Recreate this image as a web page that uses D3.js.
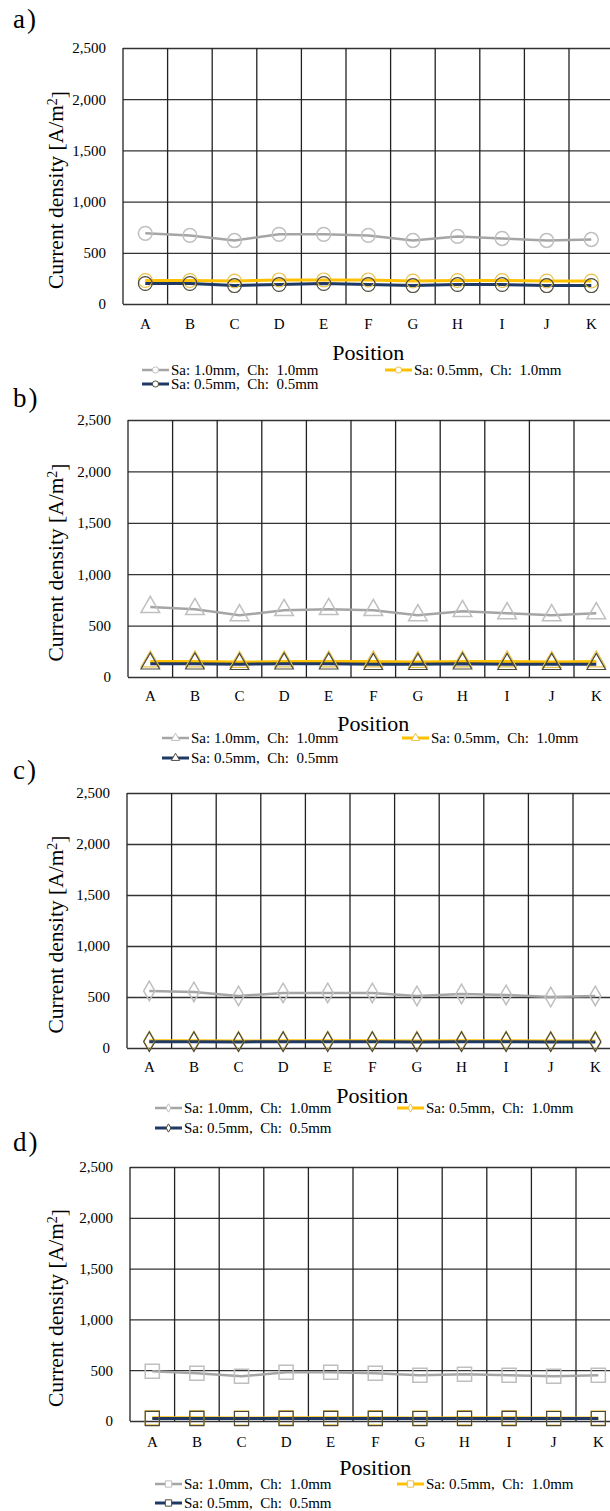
<!DOCTYPE html>
<html lang="en">
<head>
<meta charset="UTF-8">
<title>Current density by position</title>
<style>
  body { margin: 0; background: #fff; }
  svg text { font-family: "Liberation Serif", "Times New Roman", serif; fill: #000; }
</style>
</head>
<body>
<svg id="chart" width="610" height="1511"></svg>
<script src="https://d3js.org/d3.v7.min.js"></script>
<script>

// data
let positions = ["A", "B", "C", "D", "E", "F", "G", "H", "I", "J", "K"];
let yTicks = [0, 500, 1000, 1500, 2000, 2500];
let seriesNames = ["Sa: 1.0mm,  Ch:  1.0mm", "Sa: 0.5mm,  Ch:  1.0mm", "Sa: 0.5mm,  Ch:  0.5mm"];
let panelLetters = ["a)", "b)", "c)", "d)"];

let circleS1 = [690, 670, 620, 680, 680, 670, 620, 660, 640, 620, 630];
let circleS2 = [230, 230, 225, 235, 235, 235, 225, 230, 230, 225, 225];
let circleS3 = [200, 200, 180, 190, 200, 190, 180, 190, 190, 180, 180];

let triangleS1 = [680, 660, 600, 650, 660, 650, 600, 640, 620, 600, 620];
let triangleS2 = [150, 150, 145, 150, 150, 150, 145, 150, 150, 145, 150];
let triangleS3 = [130, 130, 125, 130, 130, 125, 125, 130, 125, 125, 125];

let diamondS1 = [560, 550, 510, 540, 540, 540, 510, 530, 520, 500, 510];
let diamondS2 = [70, 70, 68, 70, 70, 70, 68, 70, 70, 68, 68];
let diamondS3 = [62, 62, 60, 62, 62, 62, 60, 62, 62, 60, 60];

let squareS1 = [490, 470, 440, 480, 480, 470, 450, 460, 450, 440, 450];
let squareS2 = [32, 32, 30, 32, 32, 32, 30, 32, 32, 30, 30];
let squareS3 = [25, 25, 24, 25, 25, 25, 24, 25, 25, 24, 24];

let panelData = [
    [circleS1, circleS2, circleS3],
    [triangleS1, triangleS2, triangleS3],
    [diamondS1, diamondS2, diamondS3],
    [squareS1, squareS2, squareS3]
];
let markerKinds = ["circle", "triangle", "diamond", "square"];

// styling / layout
let serif = "'Liberation Serif', 'Times New Roman', serif";
let lineColors = ["#a5a5a5", "#ffc000", "#1f3864"];
let markerColors = ["#bfbfbf", "#e8c04a", "#4a4a3a"];
let lineWidths = [2.5, 3, 3];

let layouts = [
    {letterY: 28,   left: 123, top: 48,   bottom: 304,  labY: 324,  posY: 352,  leg1: 370,  leg2: 384,  lx1: 142, lx2: 385},
    {letterY: 407,  left: 128, top: 420,  bottom: 677,  labY: 696,  posY: 723,  leg1: 738,  leg2: 758,  lx1: 162, lx2: 402},
    {letterY: 779,  left: 127, top: 793,  bottom: 1048, labY: 1067, posY: 1095, leg1: 1108, leg2: 1128, lx1: 155, lx2: 397},
    {letterY: 1151, left: 130, top: 1167, bottom: 1421, labY: 1442, posY: 1467, leg1: 1484, leg2: 1503, lx1: 155, lx2: 397}
];
let bandW = 44.6;

let svg = d3.select("#chart");

function markerPath(kind, size) {
    let sym = {circle: d3.symbolCircle, triangle: d3.symbolTriangle, diamond: d3.symbolDiamond, square: d3.symbolSquare}[kind];
    return d3.symbol().type(sym).size(size)();
}
let markerSizes = {circle: 150, triangle: 150, diamond: 110, square: 200};
let legendMarkerSizes = {circle: 30, triangle: 30, diamond: 20, square: 40};

layouts.forEach((L, p) => {
    let g = svg.append("g").style("font-family", serif);
    let width = bandW * positions.length;

    let x = d3.scaleBand().domain(positions).range([L.left, L.left + width]).padding(0);
    let y = d3.scaleLinear().domain([0, 2500]).range([L.bottom, L.top]);

    // panel letter
    g.append("text")
        .attr("x", 13).attr("y", L.letterY)
        .style("font-size", "27px")
        .style("letter-spacing", "2px")
        .text(panelLetters[p]);

    // horizontal gridlines + y labels
    g.append("g")
        .attr("transform", "translate(" + L.left + ",0)")
        .call(d3.axisLeft(y).tickValues(yTicks).tickSize(-width).tickFormat(d3.format(",")))
        .attr("font-family", null)
        .call(a => a.select(".domain").remove())
        .call(a => a.selectAll("line").attr("stroke", "#333").attr("stroke-width", 1.3))
        .call(a => a.selectAll("text").attr("x", -17).style("font-size", "15px").style("font-family", serif));

    // vertical gridlines
    let edges = positions.map(d => x(d)).concat([L.left + width]);
    g.selectAll(".vgrid")
        .data(edges)
        .enter()
        .append("line")
        .attr("x1", d => d).attr("x2", d => d)
        .attr("y1", L.top).attr("y2", L.bottom)
        .attr("stroke", "#222").attr("stroke-width", 1.3);

    // category labels
    g.selectAll(".cat")
        .data(positions)
        .enter()
        .append("text")
        .attr("x", d => x(d) + x.bandwidth() / 2)
        .attr("y", L.labY)
        .attr("dy", "0.35em")
        .attr("text-anchor", "middle")
        .style("font-size", "15px")
        .text(d => d);

    // axis titles
    g.append("text")
        .attr("x", L.left + width / 2)
        .attr("y", L.posY)
        .attr("dy", "0.35em")
        .attr("text-anchor", "middle")
        .style("font-size", "22px")
        .text("Position");

    let yt = g.append("text")
        .attr("transform", "translate(63," + ((L.top + L.bottom) / 2 + 14) + ") rotate(-90)")
        .attr("text-anchor", "middle")
        .style("font-size", "21.5px");
    yt.append("tspan").text("Current density [A/m");
    yt.append("tspan").attr("dy", "-0.45em").style("font-size", "14px").text("2");
    yt.append("tspan").attr("dy", "0.45em").text("]");

    // series
    let line = d3.line()
        .x((d, i) => x(positions[i]) + x.bandwidth() / 2)
        .y(d => y(d));
    let kind = markerKinds[p];

    panelData[p].forEach((vals, s) => {
        g.append("path")
            .datum(vals)
            .attr("d", line)
            .attr("fill", "none")
            .attr("stroke", lineColors[s])
            .attr("stroke-width", lineWidths[s]);
    });
    panelData[p].forEach((vals, s) => {
        g.selectAll(".m" + s)
            .data(vals)
            .enter()
            .append("path")
            .attr("d", markerPath(kind, markerSizes[kind]))
            .attr("transform", (d, i) => "translate(" + (x(positions[i]) + x.bandwidth() / 2) + "," + y(d) + ")")
            .attr("fill", "none")
            .attr("stroke", markerColors[s])
            .attr("stroke-width", s === 0 ? 1.5 : 1.2);
    });

    // legend
    let legPos = [[L.lx1, L.leg1], [L.lx2, L.leg1], [L.lx1, L.leg2]];
    seriesNames.forEach((name, s) => {
        let [lx, ly] = legPos[s];
        g.append("line")
            .attr("x1", lx).attr("x2", lx + 27)
            .attr("y1", ly).attr("y2", ly)
            .attr("stroke", lineColors[s]).attr("stroke-width", lineWidths[s]);
        g.append("path")
            .attr("d", markerPath(kind, legendMarkerSizes[kind]))
            .attr("transform", "translate(" + (lx + 13.5) + "," + ly + ")")
            .attr("fill", "#fff")
            .attr("stroke", markerColors[s])
            .attr("stroke-width", 1);
        g.append("text")
            .attr("x", lx + 29).attr("y", ly)
            .attr("dy", "0.35em")
            .style("font-size", "15px")
            .style("white-space", "pre")
            .text(name);
    });
});

</script>
</body>
</html>
